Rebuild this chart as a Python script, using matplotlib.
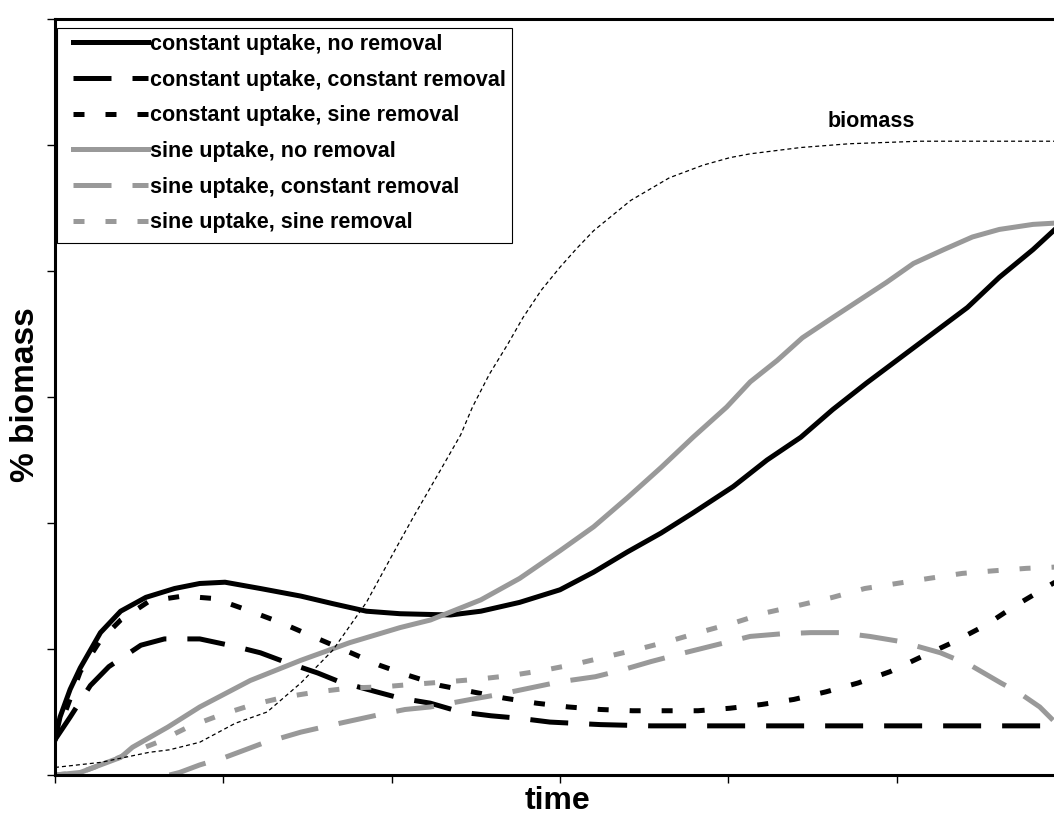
import matplotlib
matplotlib.use("Agg")
import matplotlib.pyplot as plt
from matplotlib.patches import Rectangle

plt.rcParams['font.family'] = ['Liberation Sans', 'DejaVu Sans']

# ---- series (time, % biomass) ----
cu_nr_t = [0.00, 0.03, 0.09, 0.15, 0.27, 0.39, 0.54, 0.71, 0.86, 1.01, 1.22, 1.46, 1.65, 1.85,
           2.05, 2.35, 2.53, 2.76, 3.00, 3.20, 3.40, 3.60, 3.79, 4.03, 4.23, 4.43, 4.62, 4.82,
           5.02, 5.22, 5.42, 5.61, 5.81, 5.94]
cu_nr_y = [0.28, 0.46, 0.68, 0.85, 1.13, 1.30, 1.41, 1.48, 1.52, 1.53, 1.48, 1.42, 1.36, 1.30,
           1.28, 1.27, 1.30, 1.37, 1.47, 1.61, 1.77, 1.92, 2.08, 2.29, 2.50, 2.68, 2.90, 3.11,
           3.31, 3.51, 3.71, 3.95, 4.17, 4.33]

cu_cr_t = [0.00, 0.09, 0.21, 0.32, 0.51, 0.65, 0.86, 1.07, 1.22, 1.36, 1.56, 1.69, 1.91, 2.05,
           2.23, 2.41, 2.59, 2.76, 2.94, 3.24, 3.54, 5.94]
cu_cr_y = [0.28, 0.46, 0.71, 0.86, 1.03, 1.08, 1.08, 1.02, 0.97, 0.90, 0.81, 0.74, 0.66, 0.61,
           0.57, 0.50, 0.47, 0.45, 0.42, 0.40, 0.39, 0.39]

cu_sr_t = [0.00, 0.15, 0.27, 0.39, 0.56, 0.76, 0.95, 1.14, 1.34, 1.53, 1.74, 1.93, 2.10, 2.29,
           2.48, 2.67, 2.86, 3.05, 3.24, 3.43, 3.82, 4.01, 4.20, 4.39, 4.58, 4.77, 4.96, 5.15,
           5.33, 5.53, 5.70, 5.94]
cu_sr_y = [0.28, 0.82, 1.07, 1.23, 1.38, 1.42, 1.40, 1.31, 1.21, 1.10, 0.98, 0.87, 0.79, 0.71,
           0.66, 0.61, 0.57, 0.54, 0.52, 0.51, 0.51, 0.53, 0.56, 0.60, 0.66, 0.73, 0.82, 0.94,
           1.05, 1.19, 1.34, 1.53]

su_nr_t = [0.00, 0.15, 0.27, 0.39, 0.46, 0.67, 0.86, 1.16, 1.46, 1.75, 2.05, 2.23, 2.53, 2.76,
           3.00, 3.20, 3.40, 3.60, 3.79, 3.99, 4.13, 4.29, 4.44, 4.62, 4.78, 4.94, 5.10, 5.28,
           5.45, 5.61, 5.81, 5.94]
su_nr_y = [0.00, 0.02, 0.08, 0.14, 0.22, 0.38, 0.54, 0.75, 0.91, 1.05, 1.17, 1.23, 1.39, 1.56,
           1.78, 1.97, 2.20, 2.44, 2.68, 2.92, 3.12, 3.29, 3.47, 3.63, 3.77, 3.91, 4.06, 4.17,
           4.27, 4.33, 4.37, 4.38]

su_cr_t = [0.68, 0.74, 0.86, 1.01, 1.23, 1.46, 1.69, 1.93, 2.08, 2.23, 2.47, 2.64, 2.82, 3.00,
           3.21, 3.36, 3.54, 3.71, 3.89, 4.13, 4.31, 4.49, 4.66, 4.84, 5.02, 5.26, 5.44, 5.62,
           5.73, 5.85, 5.94]
su_cr_y = [0.00, 0.02, 0.08, 0.14, 0.25, 0.34, 0.41, 0.48, 0.52, 0.54, 0.60, 0.64, 0.69, 0.74,
           0.78, 0.83, 0.90, 0.96, 1.02, 1.10, 1.12, 1.13, 1.13, 1.10, 1.06, 0.97, 0.87, 0.73,
           0.65, 0.54, 0.42]

su_sr_t = [0.00, 0.15, 0.27, 0.42, 0.61, 0.79, 0.99, 1.18, 1.37, 1.56, 1.75, 1.95, 2.13, 2.33,
           2.51, 2.71, 2.90, 3.09, 3.28, 3.47, 3.67, 3.85, 4.04, 4.23, 4.43, 4.62, 4.81, 5.00,
           5.19, 5.39, 5.57, 5.77, 5.94]
su_sr_y = [0.00, 0.02, 0.08, 0.16, 0.26, 0.38, 0.48, 0.56, 0.62, 0.66, 0.69, 0.70, 0.72, 0.74,
           0.76, 0.79, 0.83, 0.88, 0.94, 1.00, 1.07, 1.14, 1.21, 1.29, 1.35, 1.41, 1.48, 1.52,
           1.56, 1.60, 1.62, 1.64, 1.65]

biomass_t = [0.00, 0.27, 0.56, 0.68, 0.86, 1.07, 1.26, 1.46, 1.65, 1.85, 2.03, 2.13, 2.29, 2.41,
             2.48, 2.58, 2.69, 2.78, 2.89, 3.00, 3.10, 3.20, 3.42, 3.65, 3.85, 4.01, 4.13, 4.43,
             4.72, 5.14, 5.94]
biomass_y = [0.06, 0.10, 0.18, 0.20, 0.26, 0.41, 0.50, 0.73, 0.99, 1.37, 1.81, 2.05, 2.42, 2.70,
             2.92, 3.18, 3.42, 3.63, 3.85, 4.03, 4.18, 4.32, 4.56, 4.74, 4.84, 4.90, 4.93, 4.98,
             5.01, 5.03, 5.03]

labels = ['constant uptake, no removal',
          'constant uptake, constant removal',
          'constant uptake, sine removal',
          'sine uptake, no removal',
          'sine uptake, constant removal',
          'sine uptake, sine removal']

GREY = '#999999'
LONG = (0, (7.6, 4.2))
SHORT = (0, (2.2, 4.2))
LW = 3.6

fig = plt.figure(figsize=(10.54, 8.17), dpi=100)
ax = fig.add_axes([55 / 1054, 42 / 817, 1010 / 1054, 756 / 817])

ax.plot(cu_nr_t, cu_nr_y, color='black', lw=LW, label=labels[0])
ax.plot(cu_cr_t, cu_cr_y, color='black', lw=LW, linestyle=LONG, label=labels[1])
ax.plot(cu_sr_t, cu_sr_y, color='black', lw=LW, linestyle=SHORT, label=labels[2])
ax.plot(su_nr_t, su_nr_y, color=GREY, lw=LW, label=labels[3])
ax.plot(su_cr_t, su_cr_y, color=GREY, lw=LW, linestyle=LONG, label=labels[4])
ax.plot(su_sr_t, su_sr_y, color=GREY, lw=LW, linestyle=SHORT, label=labels[5])
ax.plot(biomass_t, biomass_y, color='black', lw=0.9, linestyle=(0, (3.2, 2.4)))

ax.text(4.85, 5.19, 'biomass', fontsize=15.5, fontweight='bold', ha='center', va='center')

ax.set_xlim(0, 6)
ax.set_ylim(0, 6)
ax.set_xticks(range(7))
ax.set_yticks(range(7))
ax.tick_params(direction='out', length=6, width=1, labelbottom=False, labelleft=False)
for side in ['left', 'bottom', 'top']:
    ax.spines[side].set_linewidth(2.2)
ax.spines['right'].set_visible(False)

ax.set_xlabel('time', fontsize=23, fontweight='bold', va='center')
ax.xaxis.set_label_coords(0.498, -0.035)
ax.set_ylabel('% biomass', fontsize=24, fontweight='bold', va='center')
ax.yaxis.set_label_coords(-0.0297, 0.503)

leg = ax.legend(loc='upper left', bbox_to_anchor=(18 / 1010, 741 / 756), frameon=False,
                borderpad=0, borderaxespad=0, handlelength=3.5, handletextpad=0.1,
                labelspacing=0.68, prop={'size': 15.5, 'weight': 'bold'})

# legend frame
ax.add_patch(Rectangle((2 / 1010, 532 / 756), 455 / 1010, 215 / 756, transform=ax.transAxes,
                       fill=False, edgecolor='black', lw=0.8, zorder=5))

fig.savefig('out.png', dpi=100)
